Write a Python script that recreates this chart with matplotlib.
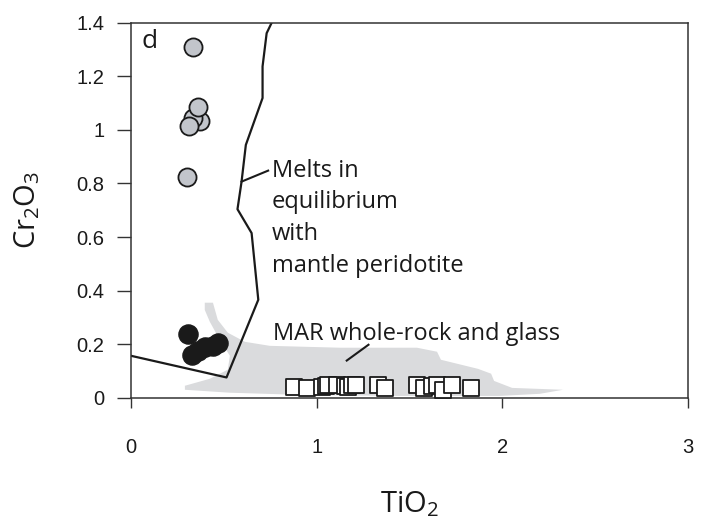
import matplotlib
matplotlib.use("Agg")
import matplotlib.pyplot as plt

plt.rcParams['mathtext.default'] = 'regular'

# gray circles (high Cr2O3)
gray_tio2 = [0.335, 0.372, 0.335, 0.359, 0.312, 0.305]
gray_cr2o3 = [1.309, 1.035, 1.044, 1.085, 1.016, 0.826]

# black circles
black_tio2 = [0.31, 0.33, 0.36, 0.40, 0.44, 0.47]
black_cr2o3 = [0.24, 0.16, 0.175, 0.19, 0.195, 0.205]

# open squares
sq_tio2 = [0.88, 0.95, 1.03, 1.05, 1.06, 1.11, 1.15, 1.17, 1.19, 1.21,
           1.33, 1.37, 1.54, 1.58, 1.62, 1.65, 1.68, 1.73, 1.83]
sq_cr2o3 = [0.042, 0.036, 0.042, 0.045, 0.049, 0.049, 0.045, 0.042, 0.049, 0.046,
            0.049, 0.036, 0.049, 0.036, 0.045, 0.049, 0.030, 0.049, 0.036]

# melts in equilibrium with mantle peridotite (boundary line)
melt_tio2 = [0.0, 0.515, 0.686, 0.65, 0.574, 0.596, 0.619, 0.709, 0.709, 0.731, 0.758]
melt_cr2o3 = [0.157, 0.076, 0.366, 0.615, 0.704, 0.807, 0.944, 1.119, 1.237, 1.361, 1.40]

# MAR whole-rock and glass field outline
mar_tio2 = [0.398, 0.442, 0.468, 0.522, 0.614, 0.748, 1.125, 1.540, 1.648, 1.669,
            1.869, 1.939, 1.955, 2.052, 2.326, 2.202, 1.987, 1.449, 0.910, 0.533,
            0.291, 0.291, 0.425, 0.522, 0.533, 0.479, 0.425, 0.398]
mar_cr2o3 = [0.355, 0.355, 0.291, 0.243, 0.209, 0.194, 0.187, 0.187, 0.172, 0.142,
             0.108, 0.090, 0.063, 0.037, 0.030, 0.015, 0.007, 0.007, 0.011, 0.019,
             0.030, 0.045, 0.071, 0.105, 0.157, 0.216, 0.284, 0.328]

TXT = 'Open Sans'
INK = '#1a1a1a'

fig = plt.figure(figsize=(7.11, 5.29), dpi=100)
ax = fig.add_axes([0.184, 0.248, 0.784, 0.709])

ax.fill(mar_tio2, mar_cr2o3, color='#dadbdd', lw=0, zorder=1)
ax.plot(melt_tio2, melt_cr2o3, color=INK, lw=1.6, zorder=2)

ax.scatter(sq_tio2, sq_cr2o3, marker='s', s=130, facecolor='white',
           edgecolor=INK, linewidth=1.3, zorder=3)
ax.scatter(black_tio2, black_cr2o3, marker='o', s=190, facecolor=INK,
           edgecolor=INK, linewidth=1.0, zorder=4)
ax.scatter(gray_tio2, gray_cr2o3, marker='o', s=170, facecolor='#c2c5cb',
           edgecolor=INK, linewidth=1.3, zorder=4)

# annotations (multi-line text: baseline of the last line)
ax.text(0.058, 1.306, 'd', fontsize=19, family=TXT, color=INK, va='baseline')
ax.text(0.758, 0.47, 'Melts in\nequilibrium\nwith\nmantle peridotite', fontsize=17,
        family=TXT, color=INK, va='baseline', ha='left', linespacing=1.43)
ax.plot([0.596, 0.739], [0.807, 0.848], color=INK, lw=1.5)
ax.text(0.766, 0.2165, 'MAR whole-rock and glass', fontsize=17, family=TXT,
        color=INK, va='baseline', ha='left')
ax.plot([1.162, 1.279], [0.139, 0.198], color=INK, lw=1.5)

ax.set_xlim(0, 3)
ax.set_ylim(0, 1.4)
ax.set_xticks([0, 1, 2, 3])
ax.set_xticklabels(['0', '1', '2', '3'])
ax.set_yticks([0, 0.2, 0.4, 0.6, 0.8, 1.0, 1.2, 1.4])
ax.set_yticklabels(['0', '0.2', '0.4', '0.6', '0.8', '1', '1.2', '1.4'])
for lab in ax.get_xticklabels() + ax.get_yticklabels():
    lab.set_family('Liberation Sans')
    lab.set_fontsize(14.5)
    lab.set_color(INK)
ax.tick_params(axis='x', direction='out', length=7, width=1, pad=22, color='#333333')
ax.tick_params(axis='y', direction='out', length=10, width=1, pad=9, color='#333333')
for sp in ax.spines.values():
    sp.set_color('#333333')
    sp.set_linewidth(1.1)

ax.set_xlabel('TiO$_2$', fontsize=21, family=TXT, color=INK, labelpad=23)
ax.set_ylabel('Cr$_2$O$_3$', fontsize=21, family=TXT, color=INK, labelpad=25)

fig.savefig('out.png', dpi=100)
